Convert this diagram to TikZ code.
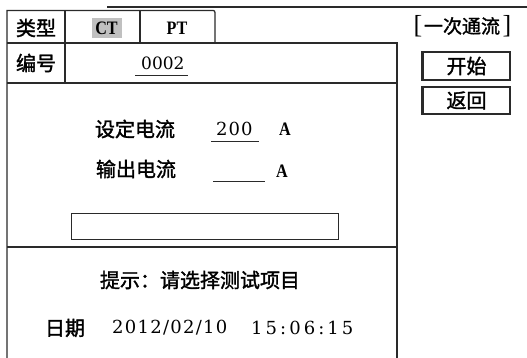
\documentclass[tikz,border=0pt]{standalone}
\usepackage{fontspec}
\setmainfont{Liberation Serif}
\newfontfamily\cjk[FakeBold=1.6]{Noto Sans CJK SC}
\newfontfamily\numf[LetterSpace=7]{DejaVu Serif}
\newfontfamily\numg[LetterSpace=17]{DejaVu Serif}
\newfontfamily\numh[LetterSpace=6]{DejaVu Serif}
\newfontfamily\numi[LetterSpace=0]{DejaVu Serif}
\definecolor{ln}{HTML}{2A2A2A}
\definecolor{hl}{HTML}{C0C0C0}
\newcommand{\narrow}[1]{\scalebox{0.85}[1]{#1}}
\tikzset{
  frame/.style={draw=ln, line width=1.3pt},
  thin/.style={draw=ln, line width=1pt},
  zh/.style={inner sep=0pt, font=\cjk\fontsize{20}{20}\selectfont},
  zhs/.style={inner sep=0pt, font=\cjk\fontsize{19}{19}\selectfont},
  lat/.style={inner sep=0pt, font=\bfseries\fontsize{19}{19}\selectfont},
  num/.style={inner sep=0pt, anchor=west},
}
\begin{document}
\begin{tikzpicture}[x=1pt,y=-1pt]
\useasboundingbox (0,0) rectangle (527,358);
\fill[white] (0,0) rectangle (527,358);
% outer frame
\coordinate (tl) at (107,7);
\coordinate (tr) at (527,7);
\draw[ln, line width=1.8pt] (tl) -- (tr);
\coordinate (lb) at (7,358);
\coordinate (lt) at (7,10.5);
\coordinate (tabc) at (211,10.5);
\coordinate (tabd) at (215,15);
\coordinate (tabb) at (215,43);
\draw[frame] (lb) -- (lt) -- (tabc) .. controls (215,10.5) .. (tabd) -- (tabb);
% horizontal rules
\coordinate (h1l) at (7,43); \coordinate (h1r) at (397,43);
\coordinate (h2l) at (7,83); \coordinate (h2r) at (397,83);
\coordinate (h3l) at (7,247); \coordinate (h3r) at (397,247);
\coordinate (rb) at (397,358);
\draw[frame] (h1l) -- (h1r) -- (rb);
\draw[frame] (h2l) -- (h2r);
\draw[frame] (h3l) -- (h3r);
% dividers
\coordinate (d1t) at (65,10.5); \coordinate (d1b) at (65,83);
\coordinate (d2t) at (140,10.5); \coordinate (d2b) at (140,43);
\draw[frame] (d1t) -- (d1b);
\draw[frame] (d2t) -- (d2b);
% CT highlight
\fill[hl] (92,18) rectangle (122,38);
% labels row 1/2
\node[zh] (lx) at (36,28) {类型};
\node[zh] (lb2) at (36,63) {编号};
\node[lat] (ct) at (106.5,28.5) {\narrow{CT}};
\node[lat] (pt) at (177,28.5) {\narrow{PT}};
\node[num, font=\numi\fontsize{17}{17}\selectfont] (no) at (141,63) {0002};
\coordinate (u1a) at (135,76); \coordinate (u1b) at (188,76);
\draw[thin] (u1a) -- (u1b);
% middle section
\node[zh] (sd) at (135,129) {设定电流};
\node[num, font=\numh\fontsize{18}{18}\selectfont] (v200) at (216,129) {200};
\node[lat] (a1) at (285,129) {\narrow{A}};
\coordinate (u2a) at (211,142); \coordinate (u2b) at (259,142);
\draw[thin] (u2a) -- (u2b);
\node[zh] (sc) at (136,169) {输出电流};
\node[lat] (a2) at (282,171) {\narrow{A}};
\coordinate (u3a) at (213,182); \coordinate (u3b) at (265,182);
\draw[thin] (u3a) -- (u3b);
\node[draw=ln, line width=1pt, minimum width=267pt, minimum height=26pt, inner sep=0pt] (bar) at (204.5,226) {};
% bottom section
\node[zh] (tip) at (200,280) {提示：请选择测试项目};
\node[zh] (rq) at (65,328) {日期};
\node[num, font=\numf\fontsize{18}{18}\selectfont] (date) at (112,328) {2012/02/10};
\node[num, font=\numg\fontsize{18}{18}\selectfont] (time) at (251,328) {15:06:15};
% right side
\node[zhs] (title) at (462,26) {一次通流};
\node[inner sep=0pt, font=\fontsize{26}{26}\selectfont] (lbr) at (418,26) {[};
\node[inner sep=0pt, font=\fontsize{26}{26}\selectfont] (rbr) at (507,26) {]};
\node[draw=ln, line width=1.2pt, minimum width=87pt, minimum height=28pt, inner sep=0pt, zh] (start) at (466.5,66) {开始};
\draw[ln, line width=2.4pt] (start.north west) -- (start.south west);
\node[draw=ln, line width=2pt, minimum width=87pt, minimum height=27pt, inner sep=0pt, zh] (back) at (466.5,100.5) {返回};
\draw[ln, line width=3pt] (back.north west) -- (back.south west);
\end{tikzpicture}
\end{document}
